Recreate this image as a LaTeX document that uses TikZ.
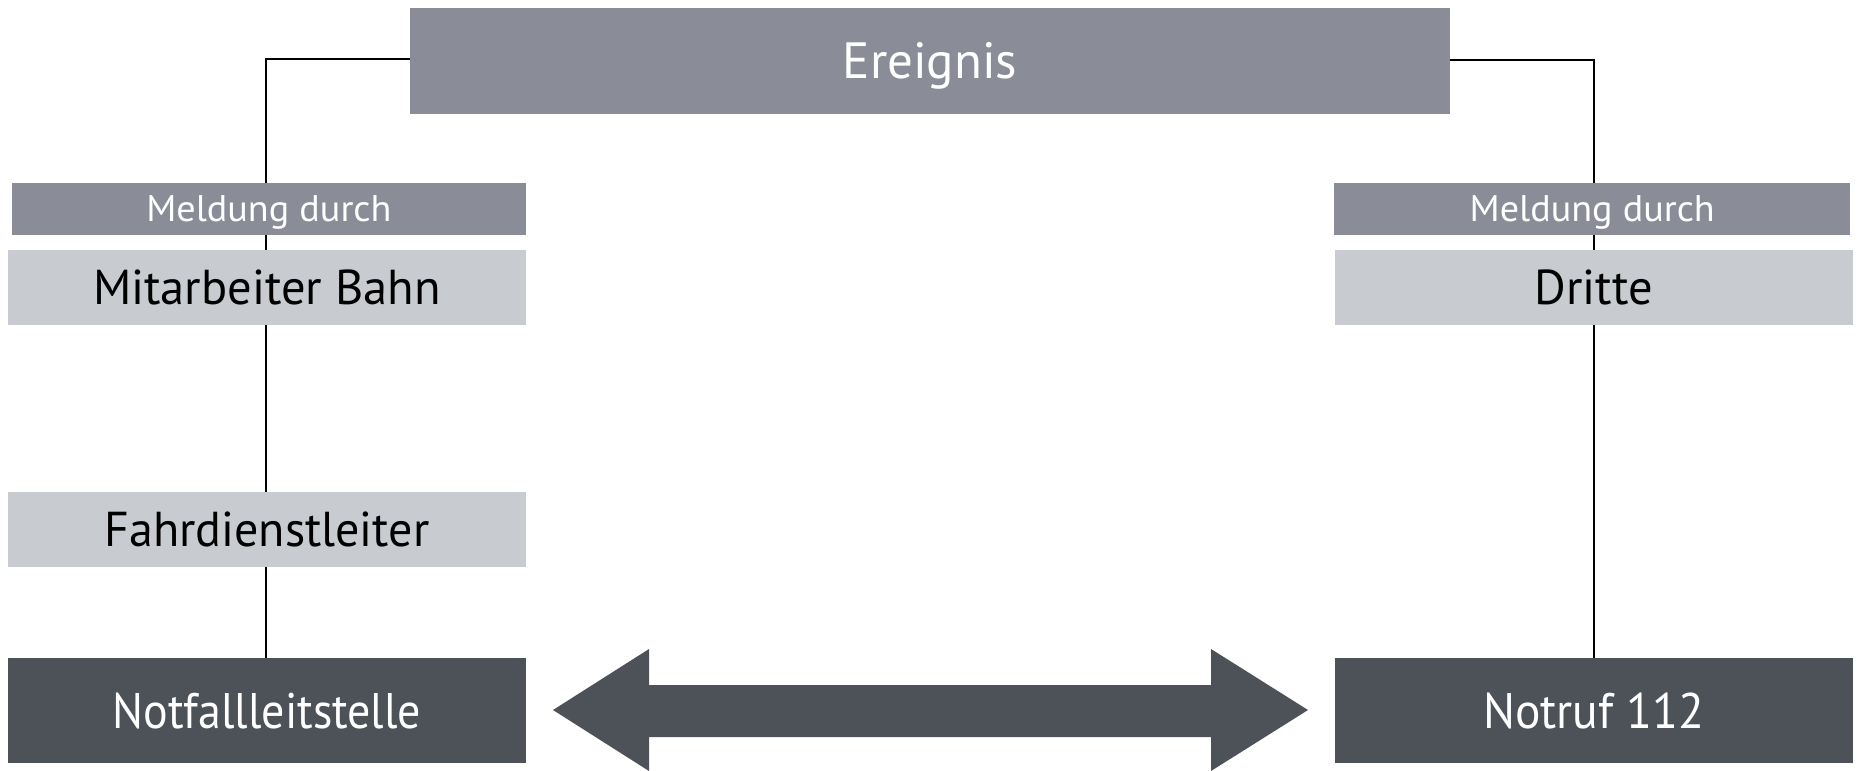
\documentclass[tikz,border=0pt]{standalone}
\usepackage{fontspec}
\setmainfont{PT Sans}
\definecolor{midgray}{HTML}{8A8D97}
\definecolor{lightgray}{HTML}{C8CCD1}
\definecolor{darkgray}{HTML}{4D5158}
\newcommand{\sqz}[2]{\scalebox{#1}[1]{#2}}
\begin{document}
\begin{tikzpicture}[x=1pt,y=-1pt,
  box/.style={rectangle, inner sep=0pt, outer sep=0pt, draw=none, text depth=0pt},
  headbox/.style={box, fill=midgray, text=white, font=\fontsize{51}{60}\selectfont, text height=35pt},
  tagbox/.style={box, fill=midgray, text=white, font=\fontsize{37}{44}\selectfont, text height=26pt},
  lightbox/.style={box, fill=lightgray, text=black, font=\fontsize{49}{60}\selectfont, text height=34pt},
  darkbox/.style={box, fill=darkgray, text=white, font=\fontsize{50}{60}\selectfont, text height=35pt},
  conn/.style={draw=black, line width=2pt}]
\useasboundingbox (0,0) rectangle (1858,771);
\coordinate (lc) at (266,0);
\coordinate (rc) at (1594,0);
% nodes
\node[headbox, minimum width=1040, minimum height=105.5] (ereignis) at (930,61) {\sqz{1.0}{Ereignis}};
\node[tagbox, minimum width=514, minimum height=51.7] (meldL) at (268.9,208.8) {\sqz{1.03}{Meldung durch}};
\node[lightbox, minimum width=518, minimum height=75.3] (mit) at (266.9,287.6) {\sqz{0.99}{Mitarbeiter Bahn}};
\node[lightbox, minimum width=518, minimum height=75.3] (fahr) at (266.9,529.6) {\sqz{0.98}{Fahrdienstleiter}};
\node[darkbox, minimum width=518, minimum height=105.3] (notfall) at (266.9,710.6) {\sqz{0.92}{Notfallleitstelle}};
\node[tagbox, minimum width=515.5, minimum height=51.7] (meldR) at (1592.2,208.8) {\sqz{1.03}{Meldung durch}};
\node[lightbox, minimum width=518.2, minimum height=75.3] (dritte) at (1593.6,287.6) {\sqz{0.99}{Dritte}};
\node[darkbox, minimum width=518.2, minimum height=105.3] (notruf) at (1593.6,710.6) {\sqz{0.95}{Notruf 112}};
% connectors
\draw[conn] (ereignis.west |- 0,59) -| (meldL.north -| lc);
\draw[conn] (meldL.south -| lc) -- (mit.north -| lc);
\draw[conn] (mit.south -| lc) -- (fahr.north -| lc);
\draw[conn] (fahr.south -| lc) -- (notfall.north -| lc);
\draw[conn] (ereignis.east |- 0,60) -| (meldR.north -| rc);
\draw[conn] (meldR.south -| rc) -- (dritte.north -| rc);
\draw[conn] (dritte.south -| rc) -- (notruf.north -| rc);
% double arrow
\fill[darkgray] (553,710) -- (649,649) -- (649,685) -- (1211,685) -- (1211,649)
  -- (1308,710) -- (1211,771) -- (1211,737) -- (649,737) -- (649,771) -- cycle;
\end{tikzpicture}
\end{document}
